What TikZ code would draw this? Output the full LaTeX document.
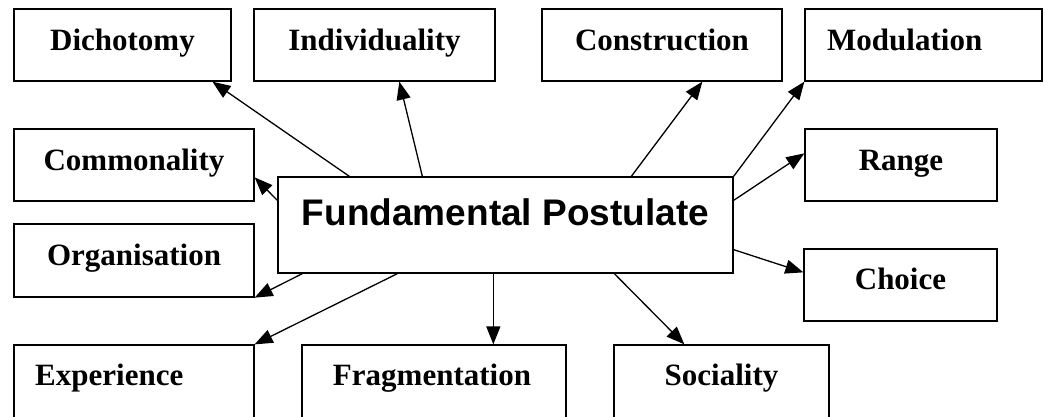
\documentclass[tikz,border=0pt]{standalone}
\usepackage{fontspec}
\setmainfont{Liberation Serif}
\newfontfamily\fpfont{Liberation Sans}
\usetikzlibrary{arrows.meta}
\tikzset{
  box/.style={draw, line width=1.3pt, rectangle, inner sep=0pt, minimum height=72pt},
  lbl/.style={inner sep=0pt, anchor=base, font=\bfseries\fontsize{31}{31}\selectfont},
  lblw/.style={lbl, anchor=base west},
  fptext/.style={inner sep=0pt, anchor=base, font=\fpfont\bfseries\fontsize{37}{37}\selectfont},
  conn/.style={line width=1.3pt, -{Triangle[length=18pt,width=14pt]}}
}
\begin{document}
\begin{tikzpicture}[x=1pt,y=-1pt]
\fill[white] (0,0) rectangle (1045,416);
\clip (0,0) rectangle (1045,416);
% boxes
\node[box, minimum width=217pt] (dich) at (122.5,45) {};
\node[box, minimum width=241pt] (indiv) at (374.5,45) {};
\node[box, minimum width=240pt] (cons) at (662,45) {};
\node[box, minimum width=237pt] (mod) at (923.5,45) {};
\node[box, minimum width=240pt] (comm) at (134,165) {};
\node[box, minimum width=192pt] (range) at (901,165) {};
\node[box, minimum width=240pt, minimum height=73pt] (org) at (134,260.5) {};
\node[box, minimum width=193pt] (choice) at (900.5,285) {};
\node[box, minimum width=240pt, minimum height=90pt] (exp) at (134,390) {};
\node[box, minimum width=264pt, minimum height=90pt] (frag) at (434,390) {};
\node[box, minimum width=215pt, minimum height=90pt] (soc) at (721.5,390) {};
\node[box, minimum width=455pt, minimum height=96pt] (fp) at (505.5,225) {};
% texts
\node[lbl] (tdich) at (122.5,50) {Dichotomy};
\node[lbl] (tindiv) at (374.5,50) {Individuality};
\node[lbl] (tcons) at (662,50) {Construction};
\node[lblw] (tmod) at (827,50) {Modulation};
\node[lbl] (tcomm) at (134,170) {Commonality};
\node[lbl] (trange) at (901,170) {Range};
\node[lbl] (torg) at (134,265) {Organisation};
\node[lbl] (tchoice) at (900.5,289) {Choice};
\node[lblw] (texp) at (35,385) {Experience};
\node[lbl] (tfrag) at (432,385) {Fragmentation};
\node[lbl] (tsoc) at (721.5,385) {Sociality};
\node[fptext] (tfp) at (505.5,225) {Fundamental Postulate};
% connectors
\draw[conn] ([xshift=72pt]fp.north west) -- ([xshift=199pt]dich.south west);
\draw[conn] ([xshift=145pt]fp.north west) -- ([xshift=146pt]indiv.south west);
\draw[conn] ([yshift=-24pt]fp.north west) -- ([yshift=-49pt]comm.north east);
\draw[conn] ([xshift=25pt]fp.south west) -- (org.south east);
\draw[conn] ([xshift=120pt]fp.south west) -- (exp.north east);
\draw[conn] ([xshift=216pt]fp.south west) -- ([xshift=192pt]frag.north west);
\draw[conn] ([xshift=337pt]fp.south west) -- ([xshift=71pt]soc.north west);
\draw[conn] ([yshift=24pt]fp.south east) -- ([yshift=-24pt]choice.north west);
\draw[conn] ([yshift=-24pt]fp.north east) -- ([yshift=-25pt]range.north west);
\draw[conn] (fp.north east) -- (mod.south west);
\draw[conn] ([xshift=354pt]fp.north west) -- ([xshift=161pt]cons.south west);
\end{tikzpicture}
\end{document}
